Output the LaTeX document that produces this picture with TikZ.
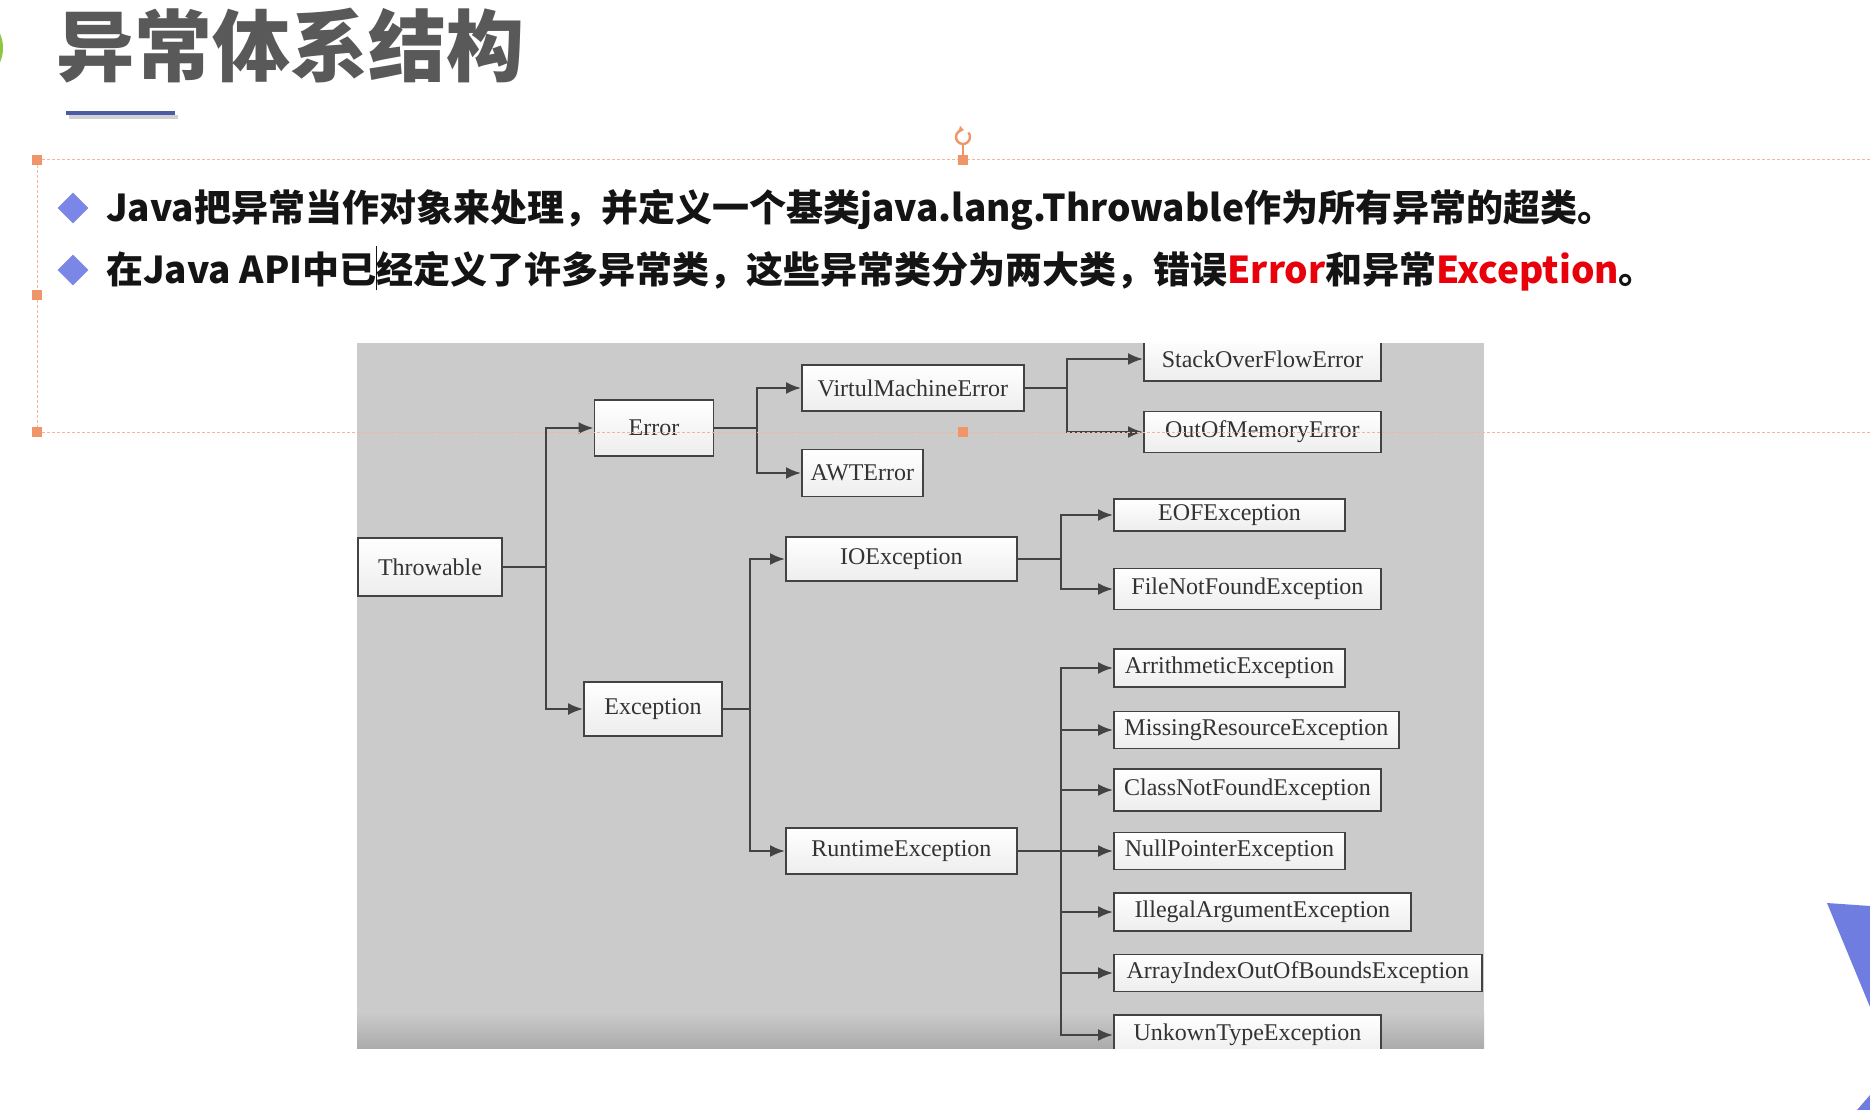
\documentclass[tikz,border=0pt]{standalone}
\usepackage{fontspec}
\setmainfont{Liberation Serif}
\newfontfamily\cjk{Noto Sans CJK SC}
\usetikzlibrary{arrows.meta,positioning,shapes.geometric}
\definecolor{panelgray}{HTML}{CBCBCB}
\definecolor{edgegray}{HTML}{434343}
\definecolor{titlegray}{HTML}{595959}
\definecolor{handle}{HTML}{F0956A}
\definecolor{dia}{HTML}{7B87E6}
\definecolor{errred}{HTML}{E8000B}
\definecolor{rulecol}{HTML}{4B5CA6}
\definecolor{leaf}{HTML}{8DC63F}
\definecolor{tri}{HTML}{6F7DE0}

\begin{document}
\begin{tikzpicture}[
  x=1pt, y=-1pt,
  box/.style={draw=edgegray, line width=1.8pt, top color=white, bottom color=black!7,
              font=\fontsize{24}{24}\selectfont, text=black!80, inner xsep=2pt, inner ysep=0pt},
  link/.style={draw=edgegray, line width=2.2pt},
  flow/.style={link, -{Latex[length=15pt, width=12pt]}},
  handlebox/.style={fill=handle, minimum size=10pt, inner sep=0pt},
  bullet/.style={diamond, fill=dia, minimum size=31pt, inner sep=0pt},
  line/.style={anchor=base west, inner sep=0pt, text=black!92,
               font=\cjk\bfseries\fontsize{37}{37}\selectfont}
]
\useasboundingbox (0,0) rectangle (1870,1110);
\fill[white] (0,0) rectangle (1870,1110);
\fill[leaf] (-32,48) circle (35);

\node[anchor=base west, inner sep=0pt, text=titlegray,
      font=\cjk\bfseries\fontsize{78}{78}\selectfont] (title) at (56,76) {异常体系结构};
\draw[black!18, line width=4pt] (69,117) -- (178,117);
\draw[rulecol, line width=4pt] (66,113) -- (175,113);

\node[bullet] (b1) at (73,208) {};
\node[bullet] (b2) at (73,270) {};
\node[line] (l1) at (106,221) {Java把异常当作对象来处理，并定义一个基类java.lang.Throwable作为所有异常的超类。};
\node[line] (l2) at (106,283) {在Java API中已\makebox[0pt]{\rule[-0.2em]{0.8pt}{1.2em}}经定义了许多异常类，这些异常类分为两大类，错误\textcolor{errred}{Error}和异常\textcolor{errred}{Exception}。};

\fill[panelgray] (357,343) rectangle (1484,1048);
\shade[top color=panelgray, bottom color=black!33] (357,1012) rectangle (1484,1048);

\begin{scope}
\clip (357,343) rectangle (1484,1048);
\node[box, minimum width=144pt, minimum height=58pt] (throwable) at (430,567) {Throwable};
\node[box, minimum width=119pt, minimum height=56pt] (error) at (654,428) {Error};
\node[box, minimum width=138pt, minimum height=54pt] (exception) at (653,709) {Exception};
\node[box, anchor=west, minimum width=222pt, minimum height=46pt] (vme) at (801,388) {VirtulMachineError};
\node[box, anchor=west, minimum width=121pt, minimum height=47pt] (awt) at (801,473) {AWTError};
\node[box, anchor=west, minimum width=237pt, minimum height=44pt] (soe) at (1143,359) {StackOverFlowError};
\node[box, anchor=west, minimum width=237pt, minimum height=41pt] (oom) at (1143,432) {OutOfMemoryError};
\node[box, anchor=west, minimum width=231pt, minimum height=44pt] (ioe) at (785,559) {IOException};
\node[box, anchor=west, minimum width=231pt, minimum height=46pt] (rte) at (785,851) {RuntimeException};
\node[box, anchor=west, minimum width=231pt, minimum height=32pt] (eof) at (1113,515) {EOFException};
\node[box, anchor=west, minimum width=267pt, minimum height=41pt] (fnf) at (1113,589) {FileNotFoundException};
\node[box, anchor=west, minimum width=231pt, minimum height=38pt] (ari) at (1113,668) {ArrithmeticException};
\node[box, anchor=west, minimum width=285pt, minimum height=37pt] (mre) at (1113,730) {MissingResourceException};
\node[box, anchor=west, minimum width=267pt, minimum height=42pt] (cnf) at (1113,790) {ClassNotFoundException};
\node[box, anchor=west, minimum width=231pt, minimum height=37pt] (npe) at (1113,851) {NullPointerException};
\node[box, anchor=west, minimum width=297pt, minimum height=38pt] (iae) at (1113,912) {IllegalArgumentException};
\node[box, anchor=west, minimum width=368pt, minimum height=37pt] (aio) at (1113,973) {ArrayIndexOutOfBoundsException};
\node[box, anchor=west, minimum width=267pt, minimum height=40pt] (ute) at (1113,1035) {UnkownTypeException};

\coordinate (tfork) at (546,567);
\coordinate (efork) at (757,428);
\coordinate (vfork) at (1067,388);
\coordinate (xfork) at (750,709);
\coordinate (ifork) at (1061,559);
\coordinate (rfork) at (1061,851);
\draw[link] (throwable) -- (tfork);
\draw[flow] (tfork) |- (error);
\draw[flow] (tfork) |- (exception);
\draw[link] (error) -- (efork);
\draw[flow] (efork) |- (vme);
\draw[flow] (efork) |- (awt);
\draw[link] (vme) -- (vfork);
\draw[flow] (vfork) |- (soe);
\draw[flow] (vfork) |- (oom);
\draw[link] (exception) -- (xfork);
\draw[flow] (xfork) |- (ioe);
\draw[flow] (xfork) |- (rte);
\draw[link] (ioe) -- (ifork);
\draw[flow] (ifork) |- (eof);
\draw[flow] (ifork) |- (fnf);
\draw[link] (rte) -- (rfork);
\draw[flow] (rfork) |- (ari);
\draw[flow] (rfork) |- (mre);
\draw[flow] (rfork) |- (cnf);
\draw[flow] (rfork) |- (npe);
\draw[flow] (rfork) |- (iae);
\draw[flow] (rfork) |- (aio);
\draw[flow] (rfork) |- (ute);
\end{scope}

\draw[handle!70, dash pattern=on 3pt off 2pt, line width=1pt] (37,160) -- (1870,160);
\draw[handle!70, dash pattern=on 3pt off 2pt, line width=1pt] (37,432) -- (1870,432);
\draw[handle!70, dash pattern=on 3pt off 2pt, line width=1pt] (37,160) -- (37,432);
\node[handlebox] (h1) at (37,160) {};
\node[handlebox] (h2) at (37,295) {};
\node[handlebox] (h3) at (37,432) {};
\node[handlebox] (h4) at (963,160) {};
\node[handlebox] (h5) at (963,432) {};
\coordinate (rot) at (963,137);
\draw[handle, line width=1.2pt] (h4.north) -- (963,144);
\draw[handle, line width=2.4pt, -{Latex[length=5pt, width=8pt]}] (rot) ++(-40:7) arc[start angle=-40, end angle=280, radius=7];

\fill[tri] (1827,903) -- (1870,906) -- (1870,1007) -- cycle;
\fill[tri] (1857,1110) -- (1870,1095) -- (1870,1110) -- cycle;
\end{tikzpicture}
\end{document}
